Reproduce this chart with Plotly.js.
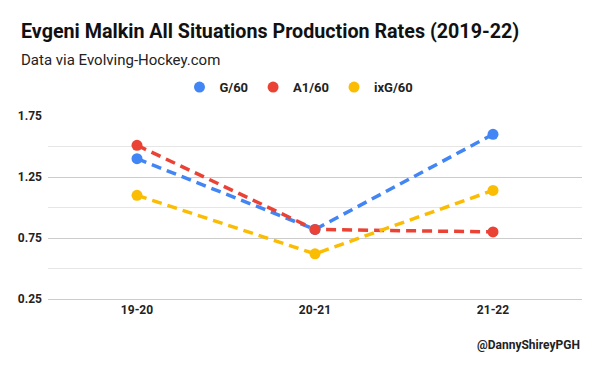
<!DOCTYPE html>
<html>
<head>
<meta charset="utf-8">
<script src="https://cdn.plot.ly/plotly-3.0.1.min.js"></script>
<style>html,body{margin:0;padding:0;background:#fff;}#chart{width:600px;height:371px;}</style>
</head>
<body>
<div id="chart"></div>
<script>
const seasons = ["19-20", "20-21", "21-22"];
const g60 = [1.40, 0.82, 1.60];
const a160 = [1.51, 0.82, 0.80];
const ixg60 = [1.10, 0.62, 1.14];
const seriesNames = ["G/60", "A1/60", "ixG/60"];
const seriesColors = ["#4285F4", "#EA4335", "#FBBC04"];
const yTickVals = [0.25, 0.75, 1.25, 1.75];
const yTickText = ["0.25", "0.75", "1.25", "1.75"];

const values = [g60, a160, ixg60];
const traces = [];
values.forEach((v, i) => {
  traces.push({
    x: seasons, y: v, type: "scatter", mode: "lines+markers",
    name: seriesNames[i], showlegend: false,
    line: {color: seriesColors[i], width: 3.5, dash: "10px,6px"},
    marker: {color: seriesColors[i], size: 11},
    hoverinfo: "skip"
  });
});
values.forEach((v, i) => {
  traces.push({
    x: [null], y: [null], type: "scatter", mode: "markers",
    name: seriesNames[i], showlegend: true,
    marker: {color: seriesColors[i], size: 11}
  });
});

const layout = {
  width: 600, height: 371,
  margin: {l: 48, r: 18, t: 116, b: 72, pad: 0},
  paper_bgcolor: "#fff", plot_bgcolor: "#fff",
  font: {family: "Roboto, sans-serif", color: "#222"},
  showlegend: true,
  legend: {
    orientation: "h", x: 0.47, xanchor: "center", y: 1.158, yanchor: "middle",
    font: {size: 13, family: "Roboto, sans-serif", weight: 700, color: "#222"},
    itemwidth: 30, traceorder: "normal"
  },
  xaxis: {
    type: "category", range: [-0.5, 2.5], showgrid: false, zeroline: false,
    showline: true, linecolor: "#cccccc", linewidth: 1, ticks: "",
    tickfont: {size: 12, family: "Roboto, sans-serif", weight: 700, color: "#222"},
    fixedrange: true
  },
  yaxis: {
    range: [0.25, 1.75], tickvals: yTickVals, ticktext: yTickText,
    showgrid: true, gridcolor: "#cccccc", gridwidth: 1, zeroline: false,
    showline: false, ticks: "", ticklabelstandoff: 5,
    tickfont: {size: 12, family: "Roboto, sans-serif", weight: 700, color: "#222"},
    minor: {dtick: 0.25, tick0: 0.25, showgrid: true, gridcolor: "#e6e6e6", gridwidth: 1},
    fixedrange: true
  },
  annotations: [
    {text: "Evgeni Malkin All Situations Production Rates (2019-22)", xref: "paper", yref: "paper",
     x: -0.055, y: 1.463, xanchor: "left", yanchor: "middle", showarrow: false,
     font: {size: 19.7, family: "Roboto, sans-serif", weight: 700, color: "#111"}},
    {text: "Data via Evolving-Hockey.com", xref: "paper", yref: "paper",
     x: -0.055, y: 1.308, xanchor: "left", yanchor: "middle", showarrow: false,
     font: {size: 15, family: "Roboto, sans-serif", color: "#222"}},
    {text: "@DannyShireyPGH", xref: "paper", yref: "paper",
     x: 1.0, y: -0.25, xanchor: "right", yanchor: "middle", showarrow: false,
     font: {size: 12, family: "Roboto, sans-serif", weight: 700, color: "#222"}}
  ]
};

Plotly.newPlot("chart", traces, layout, {displayModeBar: false, staticPlot: true});
</script>
</body>
</html>
